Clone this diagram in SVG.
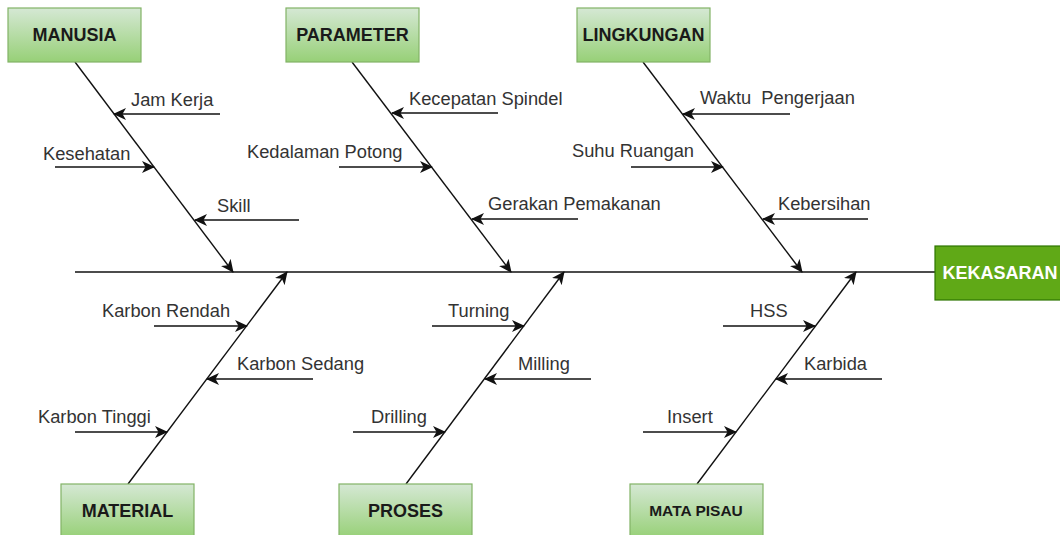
<svg xmlns="http://www.w3.org/2000/svg" width="1060" height="535" viewBox="0 0 1060 535">
<defs>
<linearGradient id="g" x1="0" y1="0" x2="0" y2="1">
<stop offset="0" stop-color="#d5e8d4"/>
<stop offset="1" stop-color="#97d077"/>
</linearGradient>
<marker id="ah" markerUnits="userSpaceOnUse" markerWidth="14" markerHeight="12" viewBox="0 0 14 12" refX="12" refY="6" orient="auto">
<path d="M0,0 L13,6 L0,12 L3.5,6 Z" fill="#111"/>
</marker>
<style>
.box{fill:url(#g);stroke:#82b366;stroke-width:1.2}
.head{fill:#60a917;stroke:#2d7600;stroke-width:1.2}
.bl{font-family:"Liberation Sans",Arial,sans-serif;font-weight:bold;font-size:18px;fill:#1a1a1a;text-anchor:middle}
.hl{font-family:"Liberation Sans",Arial,sans-serif;font-weight:bold;font-size:18px;fill:#ffffff;text-anchor:middle}
.t{font-family:"Liberation Sans",Arial,sans-serif;font-size:18.3px;fill:#333333;white-space:pre}
.ln{stroke:#111;stroke-width:1.4;fill:none}
.ar{stroke:#111;stroke-width:1.4;fill:none;marker-end:url(#ah)}
</style>
</defs>
<rect width="1060" height="535" fill="#ffffff"/>
<g id="connectors">
<line class="ln" x1="75" y1="272" x2="935" y2="272"/>
<line class="ar" x1="75" y1="62" x2="233" y2="272"/>
<line class="ar" x1="352" y1="62" x2="511" y2="272"/>
<line class="ar" x1="643" y1="62" x2="802" y2="272"/>
<line class="ar" x1="128" y1="484" x2="287" y2="272"/>
<line class="ar" x1="406" y1="484" x2="564" y2="272"/>
<line class="ar" x1="697" y1="484" x2="856" y2="272"/>
<line class="ar" x1="220" y1="114" x2="114" y2="114"/>
<line class="ar" x1="55" y1="167" x2="154" y2="167"/>
<line class="ar" x1="299" y1="220" x2="195" y2="220"/>
<line class="ar" x1="498" y1="113" x2="392" y2="113"/>
<line class="ar" x1="339" y1="167" x2="432" y2="167"/>
<line class="ar" x1="578" y1="219" x2="472" y2="219"/>
<line class="ar" x1="790" y1="114" x2="683" y2="114"/>
<line class="ar" x1="631" y1="167" x2="723" y2="167"/>
<line class="ar" x1="868" y1="219" x2="763" y2="219"/>
<line class="ar" x1="154" y1="326" x2="247" y2="326"/>
<line class="ar" x1="313" y1="379" x2="207" y2="379"/>
<line class="ar" x1="75" y1="432" x2="167" y2="432"/>
<line class="ar" x1="432" y1="326" x2="524" y2="326"/>
<line class="ar" x1="591" y1="379" x2="485" y2="379"/>
<line class="ar" x1="353" y1="432" x2="445" y2="432"/>
<line class="ar" x1="723" y1="326" x2="815" y2="326"/>
<line class="ar" x1="882" y1="379" x2="776" y2="379"/>
<line class="ar" x1="643" y1="432" x2="736" y2="432"/>
</g>
<g id="labels">
<text class="t" x="131" y="106">Jam Kerja</text>
<text class="t" x="43" y="160">Kesehatan</text>
<text class="t" x="217" y="212">Skill</text>
<text class="t" x="409" y="105">Kecepatan Spindel</text>
<text class="t" x="247" y="158">Kedalaman Potong</text>
<text class="t" x="488" y="210">Gerakan Pemakanan</text>
<text class="t" x="700" y="104">Waktu  Pengerjaan</text>
<text class="t" x="572" y="157">Suhu Ruangan</text>
<text class="t" x="778" y="210">Kebersihan</text>
<text class="t" x="102" y="317">Karbon Rendah</text>
<text class="t" x="237" y="370">Karbon Sedang</text>
<text class="t" x="38" y="423">Karbon Tinggi</text>
<text class="t" x="448" y="317">Turning</text>
<text class="t" x="518" y="370">Milling</text>
<text class="t" x="371" y="423">Drilling</text>
<text class="t" x="750" y="317">HSS</text>
<text class="t" x="804" y="370">Karbida</text>
<text class="t" x="667" y="423">Insert</text>
</g>
<g id="manusia"><rect class="box" x="8" y="8" width="133" height="54"/><text class="bl" x="74.5" y="41">MANUSIA</text></g>
<g id="parameter"><rect class="box" x="286" y="8" width="133" height="54"/><text class="bl" x="352.5" y="41">PARAMETER</text></g>
<g id="lingkungan"><rect class="box" x="577" y="8" width="133" height="54"/><text class="bl" x="643.5" y="41">LINGKUNGAN</text></g>
<g id="material"><rect class="box" x="61" y="484" width="133" height="54"/><text class="bl" x="127.5" y="517">MATERIAL</text></g>
<g id="proses"><rect class="box" x="339" y="484" width="133" height="54"/><text class="bl" x="405.5" y="517">PROSES</text></g>
<g id="mata-pisau"><rect class="box" x="630" y="484" width="133" height="54"/><text class="bl" x="696" y="516" style="font-size:15.5px">MATA PISAU</text></g>
<g id="kekasaran"><rect class="head" x="935" y="246" width="130" height="54"/><text class="hl" x="1000" y="279">KEKASARAN</text></g>
</svg>
